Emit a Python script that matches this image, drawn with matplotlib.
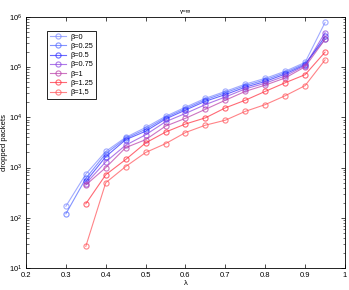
import matplotlib
matplotlib.use("Agg")
import matplotlib.pyplot as plt
import numpy as np

plt.rcParams['font.family'] = ['Liberation Sans', 'DejaVu Sans']

lam = [0.3, 0.35, 0.4, 0.45, 0.5, 0.55, 0.6, 0.65, 0.7, 0.75, 0.8, 0.85, 0.9, 0.95]
labels = ["β=0", "β=0.25", "β=0.5", "β=0.75", "β=1", "β=1.25", "β=1,5"]
nan = np.nan
b0 = [170, 740, 2100, 4000, 6300, 10500, 16000, 24000, 33000, 46000, 60000, 83000, 125000, 780000]
b025 = [120, 610, 1900, 3800, 5800, 9900, 15000, 22500, 31000, 43000, 56000, 78000, 118000, 360000]
b05 = [nan, 530, 1650, 3600, 5300, 9300, 14000, 21000, 28500, 40000, 52000, 73000, 112000, 410000]
b075 = [nan, 480, 1300, 2800, 4500, 8200, 12000, 18000, 25500, 37000, 48000, 67000, 108000, 490000]
b1 = [nan, 450, 1000, 2500, 3600, 6700, 9600, 14500, 22000, 33000, 44000, 61000, 102000, 360000]
b125 = [nan, 190, 720, 1450, 3100, 5100, 7400, 9800, 15500, 22000, 33000, 49000, 71000, 200000]
b15 = [nan, 27, 500, 1050, 2000, 3000, 5000, 7000, 8800, 13200, 18000, 27000, 43000, 140000]
series = [b0, b025, b05, b075, b1, b125, b15]
colors = ['#7a88ff', '#4f66ff', '#2a2aff', '#8a40e0', '#b83aa8', '#ff2a3a', '#ff4f55']

fig = plt.figure(figsize=(3.49, 2.9), dpi=100)
ax = fig.add_axes([26/349, 22/290, 319/349, 251/290])

for vals, lab, c in zip(series, labels, colors):
    ax.plot(lam, vals, color=c, alpha=0.7, lw=0.8, marker='o', ms=3.7,
            mfc='none', mec=c, mew=0.8, label=lab)

ax.set_yscale('log')
ax.set_xlim(0.2, 1)
ax.set_ylim(10, 1e6)
ax.set_xticks([0.2, 0.3, 0.4, 0.5, 0.6, 0.7, 0.8, 0.9, 1])
ax.set_xticklabels(["0.2", "0.3", "0.4", "0.5", "0.6", "0.7", "0.8", "0.9", "1"])
ax.tick_params(which='both', direction='in', top=True, right=True, labelsize=5.5)
ax.tick_params(axis='x', pad=3)
ax.tick_params(axis='y', pad=2.5)
ax.tick_params(which='major', length=3, width=0.5)
ax.tick_params(which='minor', length=1.8, width=0.4)
for s in ax.spines.values():
    s.set_linewidth(0.6)
ax.set_title("γ=∞", fontsize=4.5, pad=3)
ax.set_xlabel("λ", fontsize=5.5, labelpad=0.3)
ax.set_ylabel("dropped packets", fontsize=5.5, labelpad=0.5)

leg = ax.legend(loc='upper left', bbox_to_anchor=(0.055, 0.96), fontsize=5.3,
                fancybox=False, edgecolor='black', framealpha=1,
                handlelength=2.2, borderpad=0.4, labelspacing=0.28, handletextpad=0.5)
leg.get_frame().set_linewidth(0.6)

fig.savefig("out.png", dpi=100)
